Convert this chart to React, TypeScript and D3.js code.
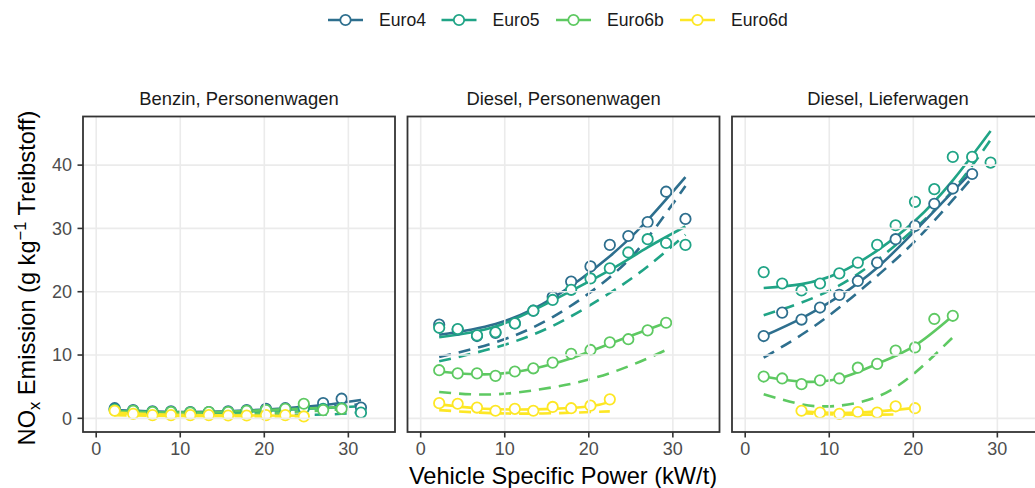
import React, { useEffect, useRef } from "react";
import * as d3 from "d3";

// ---- data ----
const euroClasses = ["Euro4", "Euro5", "Euro6b", "Euro6d"];
const euroColors = ["#2E6F8E", "#20A486", "#5EC962", "#FDE725"];
const panelTitles = ["Benzin, Personenwagen", "Diesel, Personenwagen", "Diesel, Lieferwagen"];
const xTicks = [0, 10, 20, 30];
const yTicks = [0, 10, 20, 30, 40];

// vehicle specific power bins (kW/t)
const vsp = [2.2, 4.4, 6.7, 8.9, 11.2, 13.4, 15.7, 17.9, 20.2, 22.5, 24.7, 27.0, 29.2, 31.5];

// measured means, aligned with vsp (null = no bin)
const benzinPoints = [
  [1.6, 1.3, 1.1, 1.1, 1.0, 1.0, 1.1, 1.3, 1.5, 1.6, 1.9, 2.4, 3.1, 1.7],
  [1.4, 1.2, 1.0, 1.0, 0.9, 0.9, 1.0, 1.2, 1.3, 1.4, 1.6, 1.5, 1.6, 0.9],
  [1.3, 1.2, 1.0, 1.0, 0.9, 1.0, 1.0, 1.2, 1.3, 1.5, 2.3, 1.3, 1.5],
  [1.2, 0.7, 0.5, 0.5, 0.5, 0.5, 0.45, 0.45, 0.5, 0.5, 0.3],
];
const dieselPwPoints = [
  [14.8, 14.0, 13.0, 13.5, 15.0, 17.0, 19.2, 21.6, 24.0, 27.4, 28.8, 31.0, 35.8, 31.5],
  [14.3, 14.1, 13.1, 13.6, 15.0, 17.0, 18.7, 20.3, 22.1, 23.7, 26.2, 28.3, 27.7, 27.4],
  [7.6, 7.1, 7.1, 6.7, 7.4, 7.9, 8.8, 10.2, 10.8, 12.0, 12.5, 13.9, 15.1],
  [2.4, 2.3, 1.7, 1.2, 1.5, 1.2, 1.8, 1.6, 2.0, 3.0],
];
const dieselLwPoints = [
  [13.0, 16.7, 15.6, 17.5, 19.5, 21.7, 24.6, 28.3, 30.4, 33.9, 36.3, 38.6],
  [23.1, 21.3, 20.2, 21.3, 22.9, 24.6, 27.4, 30.5, 34.2, 36.2, 41.3, 41.3, 40.4],
  [6.6, 6.3, 5.4, 6.0, 6.3, 8.0, 8.6, 10.7, 11.2, 15.7, 16.2],
  [null, null, 1.2, 0.9, 0.7, 1.0, 0.9, 1.9, 1.6],
];

// smooth fits (solid), [vsp, value]
const benzinSolid = [
  [[2.2, 1.3], [11.2, 1.0], [20.2, 1.4], [27, 2.1], [31.5, 2.9]],
  [[2.2, 1.2], [11.2, 0.9], [20.2, 1.2], [31.5, 1.9]],
  [[2.2, 1.1], [11.2, 0.9], [20.2, 1.3], [29.2, 1.8]],
  [[2.2, 0.9], [11.2, 0.5], [24.7, 0.4]],
];
const dieselPwSolid = [
  [[2.2, 13.2], [8.9, 14.9], [15.7, 19.0], [22.5, 25.6], [27, 31.3], [31.5, 38.1]],
  [[2.2, 12.8], [8.9, 14.5], [15.7, 18.6], [22.5, 23.4], [27, 27.0], [31.5, 30.3]],
  [[2.2, 7.4], [8.9, 7.0], [15.7, 8.6], [20.2, 10.6], [24.7, 12.9], [29.2, 15.1]],
  [[2.2, 2.2], [6.7, 1.6], [11.2, 1.4], [15.7, 1.5], [20.2, 1.9], [22.5, 2.6]],
];
const dieselLwSolid = [
  [[2.2, 13.0], [6.7, 15.8], [11.2, 19.3], [15.7, 23.8], [20.2, 29.6], [24.7, 35.8], [27, 39.0]],
  [[2.2, 20.6], [6.7, 21.2], [11.2, 23.0], [15.7, 26.5], [20.2, 31.2], [24.7, 37.6], [29.2, 45.4]],
  [[2.2, 6.6], [6.7, 5.8], [11.2, 6.3], [15.7, 8.6], [20.2, 11.5], [24.7, 16.2]],
  [[6.7, 1.1], [11.2, 0.85], [15.7, 1.1], [20.2, 1.65]],
];

// model curves (dashed)
const benzinDashed = [
  [[2.2, 1.1], [15.7, 1.0], [31.5, 2.2]],
  [[2.2, 0.9], [15.7, 0.6], [27, 0.6], [31.5, 1.0]],
  [[2.2, 0.9], [15.7, 0.7], [29.2, 1.4]],
  [[2.2, 0.5], [11.2, 0.35], [24.7, 0.3]],
];
const dieselPwDashed = [
  [[2.2, 9.7], [8.9, 12.0], [15.7, 16.0], [22.5, 22.3], [27, 28.5], [31.5, 36.7]],
  [[2.2, 9.0], [8.9, 11.2], [15.7, 14.6], [22.5, 19.8], [27, 24.0], [31.5, 29.0]],
  [[2.2, 4.15], [8.9, 3.8], [15.7, 4.9], [20.2, 6.2], [24.7, 8.2], [29.2, 10.8]],
  [[2.2, 1.3], [8.9, 0.8], [15.7, 0.8], [22.5, 1.1]],
];
const dieselLwDashed = [
  [[2.2, 9.6], [6.7, 13.2], [11.2, 17.5], [15.7, 22.5], [20.2, 28.0], [24.7, 34.5], [27, 38.0]],
  [[2.2, 16.3], [6.7, 18.3], [11.2, 21.0], [15.7, 25.0], [20.2, 30.0], [24.7, 36.0], [29.2, 44.0]],
  [[2.2, 3.8], [6.7, 2.2], [9, 1.9], [11.2, 2.0], [15.7, 3.4], [20.2, 7.2], [24.7, 12.8]],
  [[6.7, 0.8], [11.2, 0.6], [18.6, 0.6]],
];

const panelPoints = [benzinPoints, dieselPwPoints, dieselLwPoints];
const panelSolid = [benzinSolid, dieselPwSolid, dieselLwSolid];
const panelDashed = [benzinDashed, dieselPwDashed, dieselLwDashed];

const WIDTH = 1035;
const HEIGHT = 488;
const FONT = "'Liberation Sans', Arial, Helvetica, sans-serif";

function drawChart(node) {
  const svg = d3.select(node);
  svg.selectAll("*").remove();

  const panelTop = 116.5;
  const panelH = 315.5;
  const panelW = 312;
  const panelLefts = [83, 407.5, 732];

  const y = d3.scaleLinear().domain([-2.16, 47.68]).range([panelTop + panelH, panelTop]);

  // legend
  const legendX = [328, 441.5, 556, 680];
  euroClasses.forEach((name, i) => {
    const g = svg.append("g").attr("transform", `translate(${legendX[i]},20)`);
    g.append("line")
      .attr("x1", 0).attr("x2", 35).attr("y1", 0).attr("y2", 0)
      .attr("stroke", euroColors[i]).attr("stroke-width", 2.6);
    g.append("circle")
      .attr("cx", 17.5).attr("cy", 0).attr("r", 5.2)
      .attr("fill", "white").attr("stroke", euroColors[i]).attr("stroke-width", 1.8);
    g.append("text")
      .attr("x", 51).attr("y", 0).attr("dy", "0.35em")
      .style("font-size", "17.6px").style("fill", "#1a1a1a")
      .text(name);
  });

  panelTitles.forEach((title, p) => {
    const left = panelLefts[p];
    const x = d3.scaleLinear().domain([-1.57, 35.55]).range([left, left + panelW]);
    const g = svg.append("g");

    // clip for data
    const clipId = `clip-${p}`;
    svg.append("clipPath").attr("id", clipId)
      .append("rect").attr("x", left).attr("y", panelTop).attr("width", panelW).attr("height", panelH);

    // grid
    g.selectAll(".gx").data(xTicks).enter().append("line")
      .attr("x1", (d) => x(d)).attr("x2", (d) => x(d))
      .attr("y1", panelTop).attr("y2", panelTop + panelH)
      .attr("stroke", "#EBEBEB").attr("stroke-width", 1.6);
    g.selectAll(".gy").data(yTicks).enter().append("line")
      .attr("x1", left).attr("x2", left + panelW)
      .attr("y1", (d) => y(d)).attr("y2", (d) => y(d))
      .attr("stroke", "#EBEBEB").attr("stroke-width", 1.6);

    const data = svg.append("g").attr("clip-path", `url(#${clipId})`);
    const line = d3.line().x((d) => x(d[0])).y((d) => y(d[1])).curve(d3.curveNatural);

    // dashed model curves
    panelDashed[p].forEach((pts, i) => {
      data.append("path").attr("d", line(pts))
        .attr("fill", "none").attr("stroke", euroColors[i])
        .attr("stroke-width", 2.6).attr("stroke-dasharray", "12,8");
    });
    // solid fits
    panelSolid[p].forEach((pts, i) => {
      data.append("path").attr("d", line(pts))
        .attr("fill", "none").attr("stroke", euroColors[i])
        .attr("stroke-width", 2.6);
    });
    // points
    panelPoints[p].forEach((vals, i) => {
      const pts = vals.map((v, k) => [vsp[k], v]).filter((d) => d[1] != null);
      data.selectAll(null).data(pts).enter().append("circle")
        .attr("cx", (d) => x(d[0])).attr("cy", (d) => y(d[1])).attr("r", 5.2)
        .attr("fill", "white").attr("stroke", euroColors[i]).attr("stroke-width", 1.8);
    });

    // border
    g.append("rect")
      .attr("x", left).attr("y", panelTop).attr("width", panelW).attr("height", panelH)
      .attr("fill", "none").attr("stroke", "#333333").attr("stroke-width", 1.8);
    g.raise();
    g.selectAll("line").lower();

    // strip title
    svg.append("text")
      .attr("x", left + panelW / 2).attr("y", 105)
      .attr("text-anchor", "middle")
      .style("font-size", "18.4px").style("fill", "#1a1a1a")
      .text(title);

    // x axis
    const xAxis = svg.append("g");
    xTicks.forEach((t) => {
      xAxis.append("line")
        .attr("x1", x(t)).attr("x2", x(t))
        .attr("y1", panelTop + panelH).attr("y2", panelTop + panelH + 5.5)
        .attr("stroke", "#333333").attr("stroke-width", 1.6);
      xAxis.append("text")
        .attr("x", x(t)).attr("y", 455)
        .attr("text-anchor", "middle")
        .style("font-size", "18px").style("fill", "#4D4D4D")
        .text(t);
    });
  });

  // y axis on first panel
  const yAxis = svg.append("g");
  yTicks.forEach((t) => {
    yAxis.append("line")
      .attr("x1", 77.5).attr("x2", 83)
      .attr("y1", y(t)).attr("y2", y(t))
      .attr("stroke", "#333333").attr("stroke-width", 1.6);
    yAxis.append("text")
      .attr("x", 72).attr("y", y(t)).attr("dy", "0.35em")
      .attr("text-anchor", "end")
      .style("font-size", "18px").style("fill", "#4D4D4D")
      .text(t);
  });

  // axis titles
  svg.append("text")
    .attr("x", 563).attr("y", 484)
    .attr("text-anchor", "middle")
    .style("font-size", "23.6px").style("fill", "#000")
    .text("Vehicle Specific Power (kW/t)");

  const yt = svg.append("text")
    .attr("transform", `translate(35,278) rotate(-90)`)
    .attr("text-anchor", "middle")
    .style("font-size", "23.6px").style("fill", "#000");
  yt.append("tspan").text("NO");
  yt.append("tspan").attr("dy", 5).style("font-size", "16.5px").text("x");
  yt.append("tspan").attr("dy", -5).text(" Emission (g kg");
  yt.append("tspan").attr("dy", -9).style("font-size", "16.5px").text("\u22121");
  yt.append("tspan").attr("dy", 9).text(" Treibstoff)");
}

export default function App() {
  const ref = useRef(null);
  useEffect(() => {
    drawChart(ref.current);
  }, []);
  return (
    <svg
      ref={ref}
      width={WIDTH}
      height={HEIGHT}
      style={{ position: "absolute", left: 0, top: 0, background: "white", fontFamily: FONT }}
    />
  );
}
